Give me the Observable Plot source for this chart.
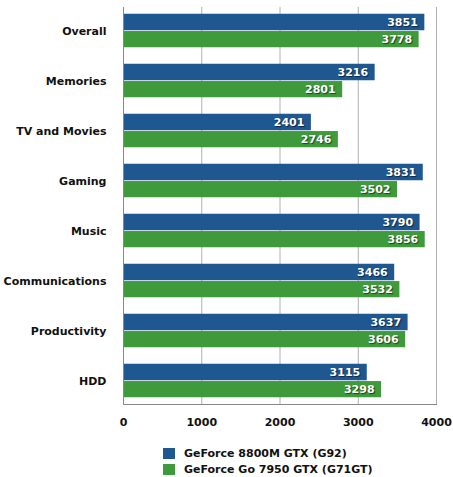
<!DOCTYPE html>
<html><head><meta charset="utf-8">
<script src="https://cdn.jsdelivr.net/npm/d3@7"></script>
<script src="https://cdn.jsdelivr.net/npm/@observablehq/plot@0.6"></script>
<style>
body{margin:0;background:#fff;font-family:"DejaVu Sans",sans-serif;}
#chart svg{display:block;font-family:"DejaVu Sans",sans-serif;}
.vals text{text-shadow:1px 1px 1px rgba(0,0,0,0.55);}
#legend{padding-left:163px;margin-top:9px;font:bold 11px "DejaVu Sans",sans-serif;color:#111;}
#legend .row{display:flex;align-items:center;height:16.5px;}
#legend .sw{width:12px;height:11px;margin-right:9px;}
</style></head><body>
<div id="chart"></div>
<div id="legend"></div>
<script>
const categories = ["Overall","Memories","TV and Movies","Gaming","Music","Communications","Productivity","HDD"];
const seriesNames = ["GeForce 8800M GTX (G92)","GeForce Go 7950 GTX (G71GT)"];
const g92 = [3851,3216,2401,3831,3790,3466,3637,3115];
const g71 = [3778,2801,2746,3502,3856,3532,3606,3298];
const xTicks = [0,1000,2000,3000,4000];
const colors = ["#1f5791","#3e9a3b"];

const rowsA = categories.map((c,i)=>({category:c, value:g92[i]}));
const rowsB = categories.map((c,i)=>({category:c, value:g71[i]}));

const plot = Plot.plot({
  width:453, height:436,
  marginLeft:123, marginRight:17, marginTop:7, marginBottom:32,
  style:{fontFamily:"DejaVu Sans, sans-serif", fontSize:"11px", background:"#fff"},
  x:{domain:[0,4000]},
  y:{domain:categories, paddingInner:0.33, paddingOuter:0.135, round:false},
  marks:[
    Plot.gridX(xTicks.slice(1), {stroke:"#b0b0b0", strokeOpacity:1}),
    Plot.barX(rowsA, {x:"value", y:"category", fill:colors[0], insetBottom:17}),
    Plot.barX(rowsB, {x:"value", y:"category", fill:colors[1], insetTop:17.3}),
    Plot.text(rowsA, {x:"value", y:"category", text:d=>String(d.value), dx:-7, dy:-8.4, textAnchor:"end", fill:"white", fontWeight:"bold", fontSize:11, className:"vals"}),
    Plot.text(rowsB, {x:"value", y:"category", text:d=>String(d.value), dx:-7, dy:8.7, textAnchor:"end", fill:"white", fontWeight:"bold", fontSize:11, className:"vals"}),
    Plot.ruleX([0], {stroke:"#888"}),
    Plot.frame({anchor:"bottom", stroke:"#888"}),
    Plot.axisX({ticks:xTicks, tickFormat:d=>String(d), tickSize:0, tickPadding:14, fontWeight:"bold", fontSize:11, fill:"#111", label:null}),
    Plot.axisY({tickSize:0, tickPadding:17, fontWeight:"bold", fontSize:11, fill:"#111", label:null})
  ]
});
document.getElementById("chart").appendChild(plot);

const legend = document.getElementById("legend");
seriesNames.forEach((n,i)=>{
  const r = document.createElement("div"); r.className="row";
  const s = document.createElement("div"); s.className="sw"; s.style.background=colors[i];
  const t = document.createElement("span"); t.textContent=n;
  r.appendChild(s); r.appendChild(t); legend.appendChild(r);
});
</script>
</body></html>
